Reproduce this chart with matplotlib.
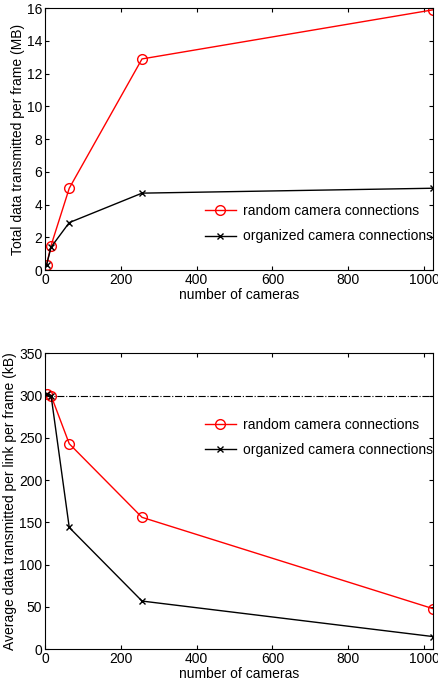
import matplotlib
matplotlib.use("Agg")
import matplotlib.pyplot as plt

plt.rcParams['font.family'] = ['Liberation Sans', 'DejaVu Sans']
plt.rcParams['font.size'] = 10

cameras = [4, 16, 64, 256, 1024]

# total data per frame (MB)
total_random = [0.3, 1.5, 5.0, 12.9, 15.9]
total_organized = [0.3, 1.4, 2.9, 4.7, 5.0]

# average data per link per frame (kB)
avg_random = [302, 300, 243, 156, 48]
avg_organized = [302, 300, 144, 57, 15]
link_capacity = 300

fig = plt.figure(figsize=(4.39, 6.82), dpi=100)
ax1 = fig.add_axes([0.1025, 0.604, 0.884, 0.384])
ax2 = fig.add_axes([0.1025, 0.048, 0.884, 0.434])

for ax in (ax1, ax2):
    ax.tick_params(direction="in", top=True, right=True, length=3, pad=2)
    ax.set_xlim(0, 1024)
    ax.set_xticks([0, 200, 400, 600, 800, 1000])
    ax.set_xlabel("number of cameras", labelpad=1)

ax1.plot(cameras, total_random, color="red", marker="o", mfc="none", ms=7, lw=1,
         label="random camera connections")
ax1.plot(cameras, total_organized, color="black", marker="x", ms=5, lw=1,
         label="organized camera connections")
ax1.set_ylim(0, 16)
ax1.set_yticks(range(0, 17, 2))
ax1.set_ylabel("Total data transmitted per frame (MB)", labelpad=1)
ax1.legend(loc="lower right", bbox_to_anchor=(1.02, 0.07), frameon=False,
           handlelength=2.2, handletextpad=0.5, borderaxespad=0.2,
           labelspacing=0.8)

ax2.axhline(link_capacity, color="black", ls="-.", lw=0.8)
ax2.plot(cameras, avg_random, color="red", marker="o", mfc="none", ms=7, lw=1,
         label="random camera connections")
ax2.plot(cameras, avg_organized, color="black", marker="x", ms=5, lw=1,
         label="organized camera connections")
ax2.set_ylim(0, 350)
ax2.set_yticks(range(0, 351, 50))
ax2.set_ylabel("Average data transmitted per link per frame (kB)", labelpad=1)
ax2.legend(loc="upper right", bbox_to_anchor=(1.02, 0.81), frameon=False,
           handlelength=2.2, handletextpad=0.5, borderaxespad=0.2,
           labelspacing=0.8)

fig.savefig("out.png", dpi=100)
